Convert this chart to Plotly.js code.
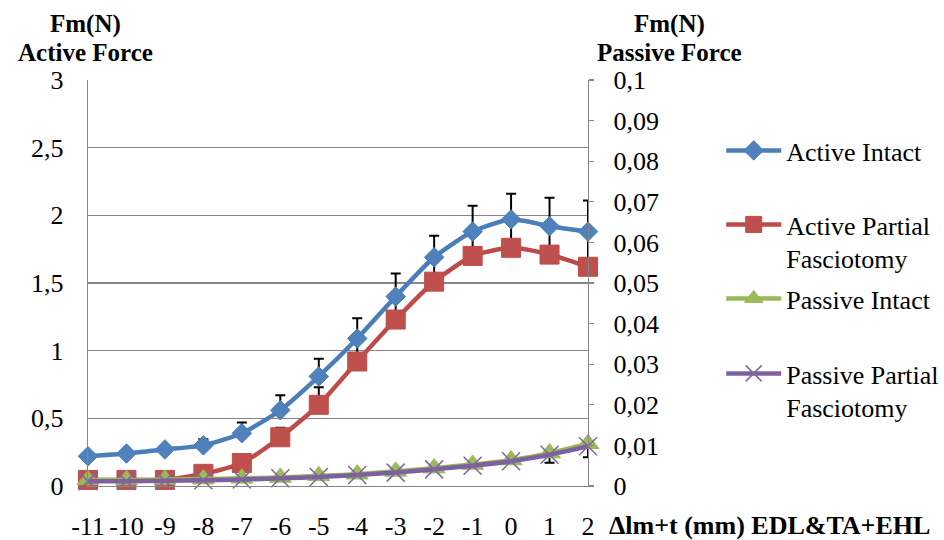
<!DOCTYPE html>
<html>
<head>
<meta charset="utf-8">
<script src="https://cdn.plot.ly/plotly-3.0.1.min.js"></script>
<style>html,body{margin:0;padding:0;background:#fff;}#chart{width:944px;height:540px;}</style>
</head>
<body>
<div id="chart"></div>
<script>
const xCategories = ["-11","-10","-9","-8","-7","-6","-5","-4","-3","-2","-1","0","1","2"];
const activeIntact = [0.22,0.24,0.27,0.30,0.39,0.56,0.81,1.09,1.40,1.69,1.88,1.97,1.92,1.88];
const activeIntactErr = [0.01,0.01,0.02,0.045,0.08,0.11,0.13,0.15,0.17,0.16,0.19,0.19,0.21,0.23];
const activePartial = [0.045,0.045,0.045,0.09,0.17,0.36,0.60,0.92,1.23,1.51,1.70,1.76,1.71,1.62];
const activePartialErr = [0.02,0.02,0.02,0.03,0.06,0.07,0.13,0.16,0.17,0.17,0.18,0.19,0.21,0.23];
const passiveIntact = [0.0015,0.0015,0.0016,0.0017,0.0019,0.0021,0.0025,0.0029,0.0036,0.0044,0.0053,0.0064,0.0081,0.0104];
const passiveIntactErrMinus = [0.0003,0.0003,0.0003,0.0003,0.0003,0.0003,0.0003,0.0003,0.0003,0.0003,0.0004,0.0006,0.0024,0.0033];
const passivePartial = [0.0012,0.0012,0.0013,0.0014,0.0016,0.0019,0.0022,0.0027,0.0033,0.0041,0.0050,0.0061,0.0077,0.0098];
const seriesNames = ["Active Intact","Active Partial<br>Fasciotomy","Passive Intact","Passive Partial<br>Fasciotomy"];

const FONT = "Liberation Serif";
const FS = 26;
const GRID = "#868686";

const errStyle = {color:"#000", thickness:2, width:5};

const traces = [
  {
    x: xCategories, y: activePartial, name: seriesNames[1], legend: "legend2",
    type: "scatter", mode: "lines+markers", cliponaxis: false,
    line: {color:"#BE4B48", width:4.5, shape:"spline", smoothing:0.6},
    marker: {symbol:"square", size:19, color:"#C0504D", line:{color:"#BE4B48", width:1}},
    error_y: Object.assign({type:"data", array: activePartialErr, symmetric:false, arrayminus: activePartialErr.map(()=>0)}, errStyle)
  },
  {
    x: xCategories, y: activeIntact, name: seriesNames[0], legend: "legend",
    type: "scatter", mode: "lines+markers", cliponaxis: false,
    line: {color:"#4A7EBB", width:4.5, shape:"spline", smoothing:0.6},
    marker: {symbol:"diamond", size:15, color:"#4F81BD", line:{color:"#4A7EBB", width:1}},
    error_y: Object.assign({type:"data", array: activeIntactErr, symmetric:false, arrayminus: activeIntactErr.map(()=>0)}, errStyle)
  },
  {
    x: xCategories, y: passiveIntact, name: seriesNames[2], legend: "legend3", yaxis: "y2",
    type: "scatter", mode: "lines+markers", cliponaxis: false,
    line: {color:"#98B954", width:4.5, shape:"spline", smoothing:0.6},
    marker: {symbol:"triangle-up", size:19, color:"#9BBB59", line:{color:"#98B954", width:1}},
    error_y: Object.assign({type:"data", array: passiveIntactErrMinus.map(()=>0), symmetric:false, arrayminus: passiveIntactErrMinus}, errStyle)
  },
  {
    x: xCategories, y: passivePartial, name: seriesNames[3], legend: "legend4", yaxis: "y2",
    type: "scatter", mode: "lines+markers", cliponaxis: false,
    line: {color:"#7D60A0", width:4.5, shape:"spline", smoothing:0.6},
    marker: {symbol:"x-thin-open", size:18, color:"#8064A2", line:{color:"#8064A2", width:1.5}}
  }
];

function leg(yTop){
  return {xref:"container", yref:"container", x:0.764, y:yTop, xanchor:"left", yanchor:"top",
    font:{family:FONT, size:FS, color:"#000"}, bgcolor:"rgba(0,0,0,0)", borderwidth:0,
    valign:"top", itemwidth:55, tracegroupgap:0};
}

function py(p){ return (486 - p) / 406; }
function px(p){ return (p - 88) / 500; }
function titleAnn(text, x, y, anchor, size){
  return {xref:"paper", yref:"paper", x:px(x), y:py(y), xanchor:anchor, yanchor:"middle",
    text:"<b>" + text + "</b>", showarrow:false, font:{family:FONT, size:size, color:"#000"}};
}

const layout = {
  width: 944, height: 540,
  margin: {l:88, r:356, t:80, b:54},
  paper_bgcolor: "#fff", plot_bgcolor: "#fff",
  separators: ", ",
  font: {family: FONT, size: FS, color: "#000"},
  showlegend: true,
  legend: leg(1 - 127/540),
  legend2: leg(1 - 201/540),
  legend3: leg(1 - 275/540),
  legend4: leg(1 - 350/540),
  xaxis: {
    type: "category", range: [0, 13], showgrid: false, zeroline: false,
    showline: true, linecolor: GRID, linewidth: 1.3, ticks: "",
    tickfont: {family: FONT, size: FS, color: "#000"}, ticklabelstandoff: 16
  },
  yaxis: {
    range: [0, 3], dtick: 0.5, tick0: 0, showgrid: true, gridcolor: GRID, gridwidth: 1.3,
    zeroline: false, showline: true, linecolor: GRID, linewidth: 1.3, ticks: "",
    tickfont: {family: FONT, size: FS, color: "#000"}, ticklabelstandoff: 18
  },
  yaxis2: {
    overlaying: "y", side: "right", range: [0, 0.1], dtick: 0.01, tick0: 0,
    showgrid: false, zeroline: false, showline: true, linecolor: GRID, linewidth: 1.3,
    ticks: "outside", ticklen: 5, tickcolor: GRID, tickwidth: 1.3,
    tickfont: {family: FONT, size: FS, color: "#000"}, ticklabelstandoff: 14
  },
  annotations: [
    titleAnn("Fm(N)", 85, 24, "center", 25),
    titleAnn("Active Force", 85, 52, "center", 25),
    titleAnn("Fm(N)", 669, 24, "center", 25),
    titleAnn("Passive Force", 669, 52, "center", 25),
    titleAnn("Δlm+t (mm) EDL&amp;TA+EHL", 607, 525, "left", 26)
  ]
};

Plotly.newPlot("chart", traces, layout, {displayModeBar:false, staticPlot:true});
</script>
</body>
</html>
